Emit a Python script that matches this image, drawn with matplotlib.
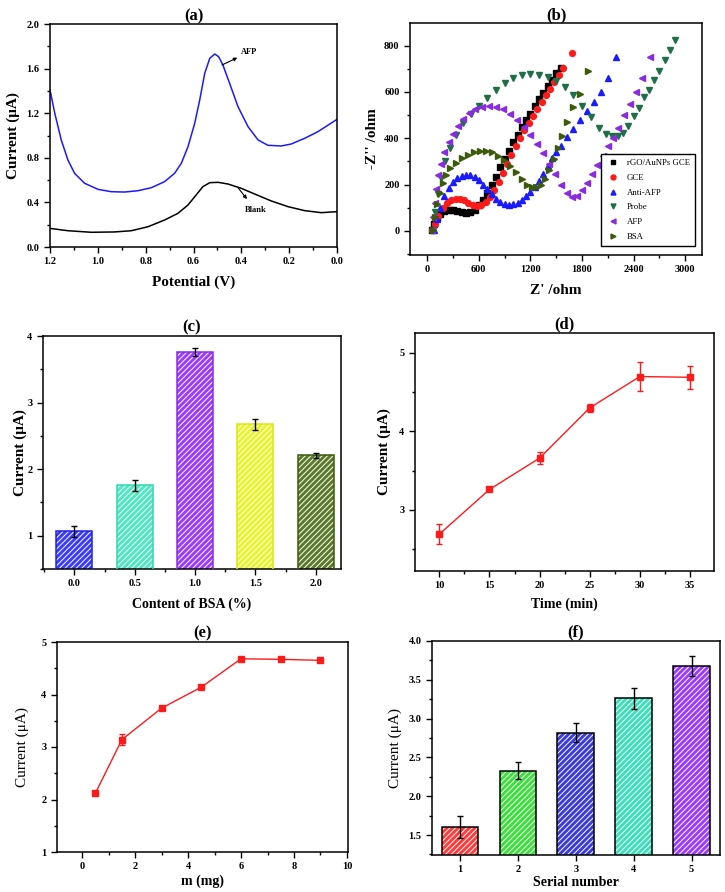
#
# plot.py
# -------
# six-panel figure: DPV, EIS and optimisation plots
#

import numpy as np
import matplotlib
matplotlib.use("Agg")
import matplotlib.pyplot as plt
from matplotlib.ticker import MultipleLocator

plt.rcParams['font.family'] = ['Liberation Serif', 'DejaVu Serif']
plt.rcParams['font.weight'] = 'bold'
plt.rcParams['axes.labelweight'] = 'bold'
plt.rcParams['hatch.linewidth'] = 0.7
plt.rcParams['axes.linewidth'] = 1.1

# (a) DPV curves
pot_afp = [1.2, 1.18, 1.153, 1.125, 1.097, 1.055, 0.999, 0.944, 0.888, 0.832, 0.776, 0.721,
           0.679, 0.651, 0.623, 0.595, 0.574, 0.553, 0.532, 0.511, 0.495, 0.477, 0.449,
           0.414, 0.372, 0.33, 0.289, 0.233, 0.191, 0.135, 0.08, 0.0]
cur_afp = [1.408, 1.199, 0.96, 0.78, 0.66, 0.571, 0.517, 0.496, 0.493, 0.505, 0.532, 0.586,
           0.661, 0.75, 0.9, 1.109, 1.318, 1.558, 1.692, 1.731, 1.707, 1.632, 1.468, 1.259,
           1.079, 0.96, 0.912, 0.906, 0.924, 0.975, 1.034, 1.145]
pot_blank = [1.2, 1.125, 1.027, 0.93, 0.86, 0.79, 0.721, 0.665, 0.623, 0.589, 0.561, 0.532,
             0.497, 0.456, 0.4, 0.344, 0.275, 0.205, 0.135, 0.066, 0.0]
cur_blank = [0.167, 0.146, 0.132, 0.135, 0.146, 0.182, 0.242, 0.302, 0.377, 0.466, 0.541,
             0.577, 0.58, 0.565, 0.526, 0.475, 0.413, 0.362, 0.326, 0.308, 0.317]

# (b) Nyquist plots
eis_labels = ['rGO/AuNPs GCE', 'GCE', 'Anti-AFP', 'Probe', 'AFP', 'BSA']
zre_rgo = [60, 80, 110, 150, 200, 250, 300, 350, 400, 450, 500, 550, 600, 650, 700, 750,
           800, 850, 900, 950, 1000, 1050, 1100, 1150, 1200, 1250, 1300, 1350, 1400, 1450,
           1500, 1550]
zim_rgo = [5, 30, 55, 75, 86, 90, 90, 86, 80, 76, 80, 92, 110, 135, 165, 200, 235, 275,
           310, 345, 385, 415, 450, 480, 505, 540, 570, 595, 625, 650, 680, 705]
zre_gce = [60, 90, 130, 180, 230, 280, 330, 380, 430, 480, 530, 580, 630, 680, 730, 780,
           830, 880, 930, 980, 1030, 1080, 1130, 1180, 1230, 1280, 1330, 1380, 1430, 1480,
           1530, 1580, 1680]
zim_gce = [5, 30, 65, 100, 122, 135, 140, 138, 132, 122, 112, 108, 112, 125, 145, 175,
           210, 250, 290, 330, 365, 400, 435, 465, 495, 525, 555, 585, 615, 645, 675, 705, 770]
zre_anti = [80, 110, 150, 200, 250, 300, 350, 400, 450, 500, 550, 600, 650, 700, 750, 800,
            850, 900, 950, 1000, 1050, 1100, 1150, 1200, 1250, 1300, 1350, 1400, 1450, 1500,
            1560, 1630, 1700, 1780, 1860, 1940, 2020, 2100, 2200]
zim_anti = [5, 50, 100, 150, 185, 210, 228, 238, 242, 240, 232, 218, 200, 180, 160, 140,
            125, 115, 112, 115, 122, 135, 150, 168, 190, 215, 245, 280, 315, 340, 365, 405,
            440, 480, 520, 555, 600, 660, 750]
zre_probe = [70, 90, 120, 160, 210, 270, 340, 420, 510, 600, 700, 800, 900, 1000, 1100,
             1200, 1300, 1400, 1500, 1600, 1700, 1800, 1900, 2000, 2080, 2150, 2220, 2280,
             2340, 2400, 2460, 2520, 2580, 2640, 2700, 2760, 2820, 2880]
zim_probe = [5, 80, 160, 230, 300, 360, 415, 465, 505, 540, 575, 610, 640, 660, 672, 677,
             672, 665, 648, 622, 585, 540, 490, 445, 420, 408, 410, 425, 455, 495, 530, 580,
             610, 650, 690, 740, 780, 825]
zre_afp = [60, 70, 85, 105, 130, 160, 200, 250, 300, 360, 420, 490, 560, 640, 720, 800, 880,
           960, 1040, 1120, 1200, 1280, 1350, 1420, 1490, 1560, 1620, 1680, 1740, 1800, 1860,
           1920, 1980, 2040, 2100, 2160, 2220, 2290, 2360, 2430, 2500, 2590]
zim_afp = [5, 60, 120, 180, 240, 290, 340, 385, 420, 455, 485, 510, 525, 535, 538, 535, 525,
           505, 480, 450, 415, 375, 335, 290, 245, 200, 165, 145, 150, 175, 205, 245, 285,
           325, 365, 400, 445, 500, 550, 600, 660, 750]
zre_bsa = [70, 90, 115, 145, 180, 220, 270, 330, 400, 470, 540, 610, 680, 750, 820, 890,
           960, 1030, 1100, 1160, 1220, 1270, 1320, 1370, 1420, 1470, 1520, 1570, 1630, 1700,
           1780, 1870]
zim_bsa = [5, 60, 115, 165, 205, 240, 270, 295, 315, 330, 340, 345, 345, 340, 325, 305, 280,
           255, 225, 200, 188, 188, 200, 225, 265, 310, 360, 410, 470, 535, 590, 690]

# (c) BSA content
bsa_content = [0.0, 0.5, 1.0, 1.5, 2.0]
bsa_current = [1.065, 1.755, 3.755, 2.675, 2.205]
bsa_err = [0.08, 0.08, 0.06, 0.085, 0.04]

# (d) incubation time
time_min = [10, 15, 20, 25, 30, 35]
time_current = [2.69, 3.26, 3.66, 4.30, 4.70, 4.69]
time_err = [0.13, 0.02, 0.08, 0.05, 0.18, 0.15]

# (e) mass
mass_mg = [0.5, 1.5, 3.0, 4.5, 6.0, 7.5, 9.0]
mass_current = [2.12, 3.14, 3.74, 4.14, 4.68, 4.67, 4.65]
mass_err = [0.03, 0.10, 0.03, 0.03, 0.03, 0.04, 0.03]

# (f) reproducibility
serial = [1, 2, 3, 4, 5]
serial_current = [1.607, 2.33, 2.82, 3.26, 3.68]
serial_err = [0.14, 0.11, 0.12, 0.13, 0.13]


W, H = 725, 892


def add_ax(fig, l, r, t, b):
    return fig.add_axes([l / W, 1 - b / H, (r - l) / W, (b - t) / H])


def style_ax(ax, tick_size=7.5):
    ax.tick_params(which='both', direction='out', top=False, right=False,
                   labelsize=tick_size, width=1.0)
    ax.tick_params(which='major', length=4)
    ax.tick_params(which='minor', length=2.5)
    for lab in ax.get_xticklabels() + ax.get_yticklabels():
        lab.set_fontweight('bold')


def put_labels(ax, l, r, t, b, xlab_px, ylab_px):
    # axis label centres at pixel positions
    ax.xaxis.set_label_coords(0.5, -(xlab_px - b) / (b - t))
    ax.xaxis.label.set_va('center')
    ax.yaxis.set_label_coords(-(l - ylab_px) / (r - l), 0.5)
    ax.yaxis.label.set_va('center')


def hatched_bars(ax, x, y, width, colors, edges):
    ax.bar(x, y, width, color=colors, edgecolor='white', hatch='//////', linewidth=0, zorder=2)
    ax.bar(x, y, width, fill=False, edgecolor=edges, linewidth=1.1, zorder=3)


fig = plt.figure(figsize=(W / 100, H / 100), dpi=100)

# ---- (a)
l, r, t, b = 50, 337, 24, 247
ax = add_ax(fig, l, r, t, b)
ax.plot(pot_afp, cur_afp, color='#1a1aff', lw=1.1)
ax.plot(pot_blank, cur_blank, color='black', lw=1.1)
ax.set_xticks([1.2, 1.0, 0.8, 0.6, 0.4, 0.2, 0.0])
ax.set_xticklabels(['1.2', '1.0', '0.8', '0.6', '0.4', '0.2', '0.0'])
ax.xaxis.set_minor_locator(MultipleLocator(0.1))
ax.yaxis.set_major_locator(MultipleLocator(0.4))
ax.yaxis.set_minor_locator(MultipleLocator(0.2))
ax.set_xlim(1.2, 0.0)
ax.set_ylim(0.0, 2.0)
ax.annotate('AFP', xy=(0.481, 1.632), xytext=(0.40, 1.75), fontsize=6, fontweight='bold',
            va='center', ha='left',
            arrowprops=dict(arrowstyle='<|-', color='black', lw=0.8, mutation_scale=5,
                            shrinkA=1, shrinkB=0))
ax.annotate('Blank', xy=(0.414, 0.532), xytext=(0.385, 0.33), fontsize=6, fontweight='bold',
            va='center', ha='left',
            arrowprops=dict(arrowstyle='<|-', color='black', lw=0.8, mutation_scale=5,
                            shrinkA=4, shrinkB=0))
ax.set_title('(a)', fontsize=12, fontweight='bold', pad=2)
ax.set_xlabel('Potential (V)', fontsize=11)
ax.set_ylabel('Current (\u03bcA)', fontsize=11)
style_ax(ax)
put_labels(ax, l, r, t, b, 282, 13)

# ---- (b)
l, r, t, b = 410, 702, 23, 255
ax = add_ax(fig, l, r, t, b)
eis_sets = [(zre_rgo, zim_rgo, 's', 'black'),
            (zre_gce, zim_gce, 'o', '#ff1a1a'),
            (zre_anti, zim_anti, '^', '#1a1aff'),
            (zre_probe, zim_probe, 'v', '#1e6e46'),
            (zre_afp, zim_afp, '<', '#8a2be2'),
            (zre_bsa, zim_bsa, '>', '#3b5b0a')]
for (zr, zi, m, c), lab in zip(eis_sets, eis_labels):
    ax.plot(zr, zi, ls='none', marker=m, ms=4.2, color=c, mec=c, label=lab)
ax.set_xlim(-200, 3195)
ax.set_ylim(-104, 898)
ax.xaxis.set_major_locator(MultipleLocator(600))
ax.xaxis.set_minor_locator(MultipleLocator(300))
ax.yaxis.set_major_locator(MultipleLocator(200))
ax.yaxis.set_minor_locator(MultipleLocator(100))
leg = ax.legend(loc='lower right', bbox_to_anchor=(0.976, 0.039), borderaxespad=0,
                fontsize=6.3, markerscale=0.85, handlelength=1.4, handletextpad=0.9,
                labelspacing=0.75, borderpad=0.6, fancybox=False, framealpha=1)
leg.get_frame().set_edgecolor('black')
leg.get_frame().set_linewidth(1.0)
for txt in leg.get_texts():
    txt.set_fontweight('normal')
ax.set_title('(b)', fontsize=12, fontweight='bold', pad=2)
ax.set_xlabel("Z' /ohm", fontsize=11)
ax.set_ylabel("-Z'' /ohm", fontsize=11)
style_ax(ax)
put_labels(ax, l, r, t, b, 290, 372)

# ---- (c)
l, r, t, b = 43, 341, 336, 569
ax = add_ax(fig, l, r, t, b)
c_fill = ['#3b3bff', '#4de8c0', '#9a3cff', '#e8f52a', '#5a7a2a']
c_edge = ['#2020e0', '#30d8b0', '#8a2be2', '#d8e810', '#3b5b0a']
hatched_bars(ax, bsa_content, bsa_current, 0.30, c_fill, c_edge)
ax.errorbar(bsa_content, bsa_current, yerr=bsa_err, fmt='none', ecolor='black',
            elinewidth=1.0, capsize=2, capthick=1.0, zorder=4)
ax.set_xlim(-0.26, 2.21)
ax.set_ylim(0.5, 4.0)
ax.set_xticks(bsa_content)
ax.set_xticklabels(['%.1f' % v for v in bsa_content])
ax.xaxis.set_minor_locator(MultipleLocator(0.25))
ax.yaxis.set_major_locator(MultipleLocator(1))
ax.yaxis.set_minor_locator(MultipleLocator(0.5))
ax.set_title('(c)', fontsize=12, fontweight='bold', pad=3)
ax.set_xlabel('Content of BSA (%)', fontsize=10)
ax.set_ylabel('Current (\u03bcA)', fontsize=11)
style_ax(ax)
put_labels(ax, l, r, t, b, 604, 20)

# ---- (d)
l, r, t, b = 415, 714, 333, 571
ax = add_ax(fig, l, r, t, b)
ax.errorbar(time_min, time_current, yerr=time_err, color='#ff1a1a', marker='s', ms=5,
            lw=1.0, elinewidth=1.0, capsize=2, capthick=1.0)
ax.set_xlim(7.57, 37.4)
ax.set_ylim(2.22, 5.255)
ax.xaxis.set_major_locator(MultipleLocator(5))
ax.xaxis.set_minor_locator(MultipleLocator(2.5))
ax.yaxis.set_major_locator(MultipleLocator(1))
ax.yaxis.set_minor_locator(MultipleLocator(0.5))
ax.set_title('(d)', fontsize=12, fontweight='bold', pad=3)
ax.set_xlabel('Time (min)', fontsize=10)
ax.set_ylabel('Current (\u03bcA)', fontsize=11)
style_ax(ax)
put_labels(ax, l, r, t, b, 604, 384)

# ---- (e)
l, r, t, b = 57, 348, 642, 852
ax = add_ax(fig, l, r, t, b)
ax.errorbar(mass_mg, mass_current, yerr=mass_err, color='#ff1a1a', marker='s', ms=5,
            lw=1.0, elinewidth=1.0, capsize=2, capthick=1.0)
ax.set_xlim(-0.95, 10.04)
ax.set_ylim(1, 5)
ax.xaxis.set_major_locator(MultipleLocator(2))
ax.xaxis.set_minor_locator(MultipleLocator(1))
ax.yaxis.set_major_locator(MultipleLocator(1))
ax.yaxis.set_minor_locator(MultipleLocator(0.5))
ax.set_title('(e)', fontsize=12, fontweight='bold', pad=3)
ax.set_xlabel('m (mg)', fontsize=10)
ax.set_ylabel('Current (\u03bcA)', fontsize=11, fontweight='normal')
style_ax(ax)
put_labels(ax, l, r, t, b, 881, 22)

# ---- (f)
l, r, t, b = 432, 720, 641, 855
ax = add_ax(fig, l, r, t, b)
f_fill = ['#ff3b3b', '#3be03b', '#3b3bdd', '#3be0b8', '#9a3cff']
hatched_bars(ax, serial, serial_current, 0.63, f_fill, 'black')
ax.errorbar(serial, serial_current, yerr=serial_err, fmt='none', ecolor='black',
            elinewidth=1.0, capsize=2, capthick=1.0, zorder=4)
ax.set_xlim(0.52, 5.49)
ax.set_ylim(1.243, 4.0)
ax.set_xticks(serial)
ax.yaxis.set_major_locator(MultipleLocator(0.5))
ax.yaxis.set_minor_locator(MultipleLocator(0.25))
ax.yaxis.set_major_formatter(plt.FormatStrFormatter('%.1f'))
ax.set_title('(f)', fontsize=12, fontweight='bold', pad=3)
ax.set_xlabel('Serial number', fontsize=10)
ax.set_ylabel('Current (\u03bcA)', fontsize=11, fontweight='normal')
style_ax(ax)
put_labels(ax, l, r, t, b, 883, 395)

plt.savefig('out.png', dpi=100)
